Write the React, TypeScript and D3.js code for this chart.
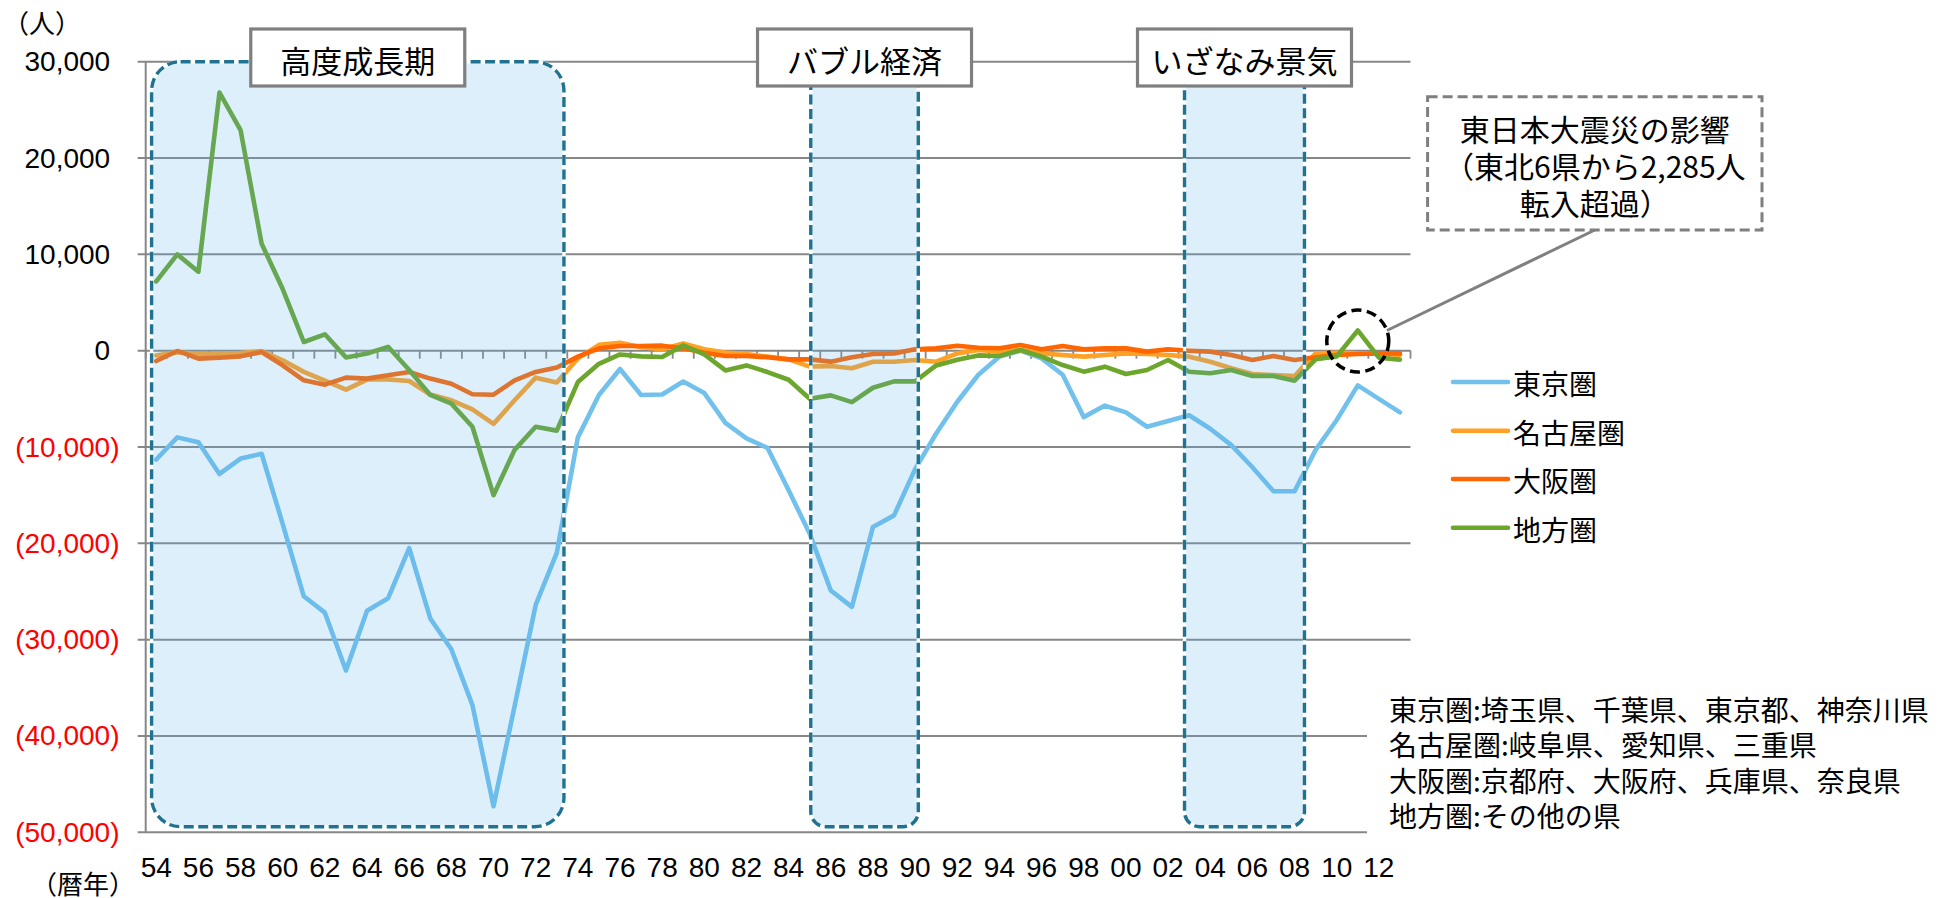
import React from 'react';
import * as d3 from 'd3';

const years = [
  1954, 1955, 1956, 1957, 1958, 1959, 1960, 1961, 1962, 1963,
  1964, 1965, 1966, 1967, 1968, 1969, 1970, 1971, 1972, 1973,
  1974, 1975, 1976, 1977, 1978, 1979, 1980, 1981, 1982, 1983,
  1984, 1985, 1986, 1987, 1988, 1989, 1990, 1991, 1992, 1993,
  1994, 1995, 1996, 1997, 1998, 1999, 2000, 2001, 2002, 2003,
  2004, 2005, 2006, 2007, 2008, 2009, 2010, 2011, 2012, 2013,
];

const tokyo = [
  -11300, -9000, -9500, -12800, -11200, -10700, -18000, -25500, -27200, -33200,
  -27000, -25700, -20500, -27800, -31000, -36800, -47300, -36900, -26400, -21000,
  -9000, -4600, -1900, -4600, -4550, -3200, -4400, -7500, -9100, -10100,
  -14500, -19000, -24900, -26600, -18300, -17100, -12300, -8600, -5300, -2500,
  -600, 0, -800, -2500, -6900, -5700, -6400, -7900, -7300, -6700,
  -8100, -9800, -12100, -14600, -14600, -10300, -7200, -3600, -5000, -6400,
];

const nagoya = [
  -500, -150, -380, -310, -240, -50, -1000, -2200, -3100, -4050,
  -3000, -3000, -3150, -4550, -5150, -6100, -7600, -5150, -2800, -3300,
  -800, 600, 830, 350, 140, 760, 140, -200, -350, -620,
  -900, -1650, -1600, -1830, -1150, -1150, -970, -1150, -280, 70,
  -100, 70, -280, -450, -620, -450, -280, -350, -450, -620,
  -1150, -1830, -2420, -2530, -2630, -280, -210, -280, -280, -450,
];

const osaka = [
  -1070, -30, -830, -730, -590, -140, -1520, -3080, -3530, -2800,
  -2900, -2560, -2210, -2900, -3430, -4530, -4570, -3080, -2210, -1750,
  -620, 240, 480, 480, 520, 240, -210, -550, -550, -690,
  -900, -900, -1140, -690, -350, -280, 140, 240, 520, 310,
  250, 590, 140, 480, 140, 240, 240, -100, 140, 0,
  -100, -450, -970, -550, -970, -690, -450, -350, -280, -280,
];

const chiho = [
  7200, 10000, 8200, 26800, 22900, 11100, 6400, 900, 1700, -700,
  -300, 400, -2000, -4600, -5500, -7900, -15000, -10300, -7900, -8300,
  -3260, -1360, -390, -590, -660, 550, -390, -2050, -1530, -2220,
  -3020, -4990, -4640, -5340, -3850, -3190, -3190, -1530, -940, -490,
  -550, 70, -620, -1490, -2180, -1660, -2420, -2010, -970, -2180,
  -2350, -2010, -2630, -2630, -3110, -900, -590, 2100, -730, -930,
];

const seriesNames = ['東京圏', '名古屋圏', '大阪圏', '地方圏'];
const seriesValues = [tokyo, nagoya, osaka, chiho];
const seriesColors = ['#72C1EC', '#FFA126', '#FF6600', '#6CA62C'];

const yTicks = [30000, 20000, 10000, 0, -10000, -20000, -30000, -40000, -50000];

const periodLabels = ['高度成長期', 'バブル経済', 'いざなみ景気'];
const periodStarts = [1954.28, 1985.55, 2003.28];
const periodEnds = [1973.84, 1990.65, 2008.97];
const periodRadii = [29, 15, 15];

const noteLines = [
  '東京圏:埼玉県、千葉県、東京都、神奈川県',
  '名古屋圏:岐阜県、愛知県、三重県',
  '大阪圏:京都府、大阪府、兵庫県、奈良県',
  '地方圏:その他の県',
];

const annotationLines = ['東日本大震災の影響', '（東北6県から2,285人', '転入超過）'];
const annotationYear = 2011;
const annotationValue = 1000;

const W = 1955;
const H = 898;
const LEFT = 145.7;
const RIGHT = 1410.5;
const TOP = 61.7;
const BOTTOM = 832.3;

const JP = '"Noto Sans CJK JP", "Noto Sans CJK SC", sans-serif';
const NUM = '"Liberation Sans", Arial, sans-serif';
const GRID = '#878787';
const TEAL = '#1F7391';

export default function App() {
  const x = d3.scaleBand<number>().domain(years).range([LEFT, RIGHT]).padding(0);
  const bw = x.bandwidth();
  const xc = (yr: number) => (x(yr) as number) + bw / 2;
  const xLin = d3.scaleLinear().domain([years[0], years[years.length - 1] + 1]).range([LEFT, RIGHT]);
  const y = d3.scaleLinear().domain([-50000, 30000]).range([BOTTOM, TOP]);

  const line = d3
    .line<number>()
    .x((_, i) => xc(years[i]))
    .y((d) => y(d));

  const y0 = y(0);
  const boundaries = d3.range(years.length + 1).map((k) => LEFT + k * bw);

  const boxW = 214;
  const boxTop = 29;
  const boxH = 57;

  const annX0 = 1427.6;
  const annX1 = 1762;
  const annY0 = 96.7;
  const annY1 = 230;
  const annCx = (annX0 + annX1) / 2;

  const circX = xc(annotationYear);
  const circY = y(annotationValue);
  const circR = 31;

  const legendX0 = 1453;
  const legendX1 = 1508;
  const legendY = [382, 430.7, 479, 527.7];

  const periodBottom = 826.7;

  return (
    <div style={{ position: 'absolute', left: 0, top: 0 }}>
      <svg width={W} height={H} style={{ display: 'block', background: '#fff' }}>
        {/* gridlines */}
        {yTicks.map((t) => (
          <line key={'g' + t} x1={LEFT - 8} x2={RIGHT} y1={y(t)} y2={y(t)} stroke={GRID} strokeWidth={2} />
        ))}
        {/* y axis */}
        <line x1={LEFT} x2={LEFT} y1={TOP} y2={BOTTOM} stroke={GRID} strokeWidth={2} />
        {/* x axis ticks on zero line */}
        {boundaries.map((bx, k) => (
          <line key={'t' + k} x1={bx} x2={bx} y1={y0} y2={y0 + 8} stroke={GRID} strokeWidth={1.8} />
        ))}

        {/* series */}
        {seriesValues.map((vals, si) => (
          <path
            key={'s' + si}
            d={line(vals) || ''}
            fill="none"
            stroke={seriesColors[si]}
            strokeWidth={4.6}
            strokeLinejoin="round"
            strokeLinecap="round"
          />
        ))}

        {/* shaded periods */}
        {periodLabels.map((lab, i) => {
          const px0 = xLin(periodStarts[i]);
          const px1 = xLin(periodEnds[i]);
          return (
            <g key={'p' + i}>
              <rect
                x={px0}
                y={TOP}
                width={px1 - px0}
                height={periodBottom - TOP}
                rx={periodRadii[i]}
                ry={periodRadii[i]}
                fill="rgb(85,175,235)"
                fillOpacity={0.2}
              />
              <rect
                x={px0}
                y={TOP}
                width={px1 - px0}
                height={periodBottom - TOP}
                rx={periodRadii[i]}
                ry={periodRadii[i]}
                fill="none"
                stroke="#fff"
                strokeWidth={3.4}
              />
              <rect
                x={px0}
                y={TOP}
                width={px1 - px0}
                height={periodBottom - TOP}
                rx={periodRadii[i]}
                ry={periodRadii[i]}
                fill="none"
                stroke={TEAL}
                strokeWidth={3.4}
                strokeDasharray="10 4.5"
              />
            </g>
          );
        })}

        {/* period label boxes */}
        {periodLabels.map((lab, i) => {
          const cx = (xLin(periodStarts[i]) + xLin(periodEnds[i])) / 2;
          return (
            <g key={'b' + i}>
              <rect x={cx - boxW / 2} y={boxTop} width={boxW} height={boxH} fill="#fff" stroke="#7F7F7F" strokeWidth={3.2} />
              <text
                x={cx}
                y={boxTop + boxH / 2 + 1.5}
                textAnchor="middle"
                dominantBaseline="central"
                fontFamily={JP}
                fontSize={31}
                fill="#000"
              >
                {lab}
              </text>
            </g>
          );
        })}

        {/* y labels */}
        {yTicks.map((t) => (
          <text
            key={'yl' + t}
            x={t < 0 ? 119.5 : 110.2}
            y={y(t)}
            textAnchor="end"
            dominantBaseline="central"
            fontFamily={NUM}
            fontSize={28}
            fill={t < 0 ? '#FF0000' : '#000'}
          >
            {t < 0 ? '(' + d3.format(',')(-t) + ')' : d3.format(',')(t)}
          </text>
        ))}

        {/* x labels */}
        {years
          .filter((yr) => yr % 2 === 0)
          .map((yr) => (
            <text key={'xl' + yr} x={xc(yr)} y={877} textAnchor="middle" fontFamily={NUM} fontSize={28} fill="#000">
              {String(yr % 100).padStart(2, '0')}
            </text>
          ))}

        {/* unit labels */}
        <text x={3} y={33} fontFamily={JP} fontSize={26} fill="#000">
          （人）
        </text>
        <text x={31} y={894} fontFamily={JP} fontSize={26} fill="#000">
          （暦年）
        </text>

        {/* notes */}
        <rect x={1367} y={688} width={580} height={148} fill="#fff" />
        {noteLines.map((s, i) => (
          <text
            key={'n' + i}
            x={1389}
            y={709 + i * 35.4}
            dominantBaseline="central"
            fontFamily={JP}
            fontSize={28}
            fill="#000"
          >
            {s}
          </text>
        ))}

        {/* legend */}
        {seriesNames.map((name, i) => (
          <g key={'lg' + i}>
            <line
              x1={legendX0}
              x2={legendX1}
              y1={legendY[i]}
              y2={legendY[i]}
              stroke={seriesColors[i]}
              strokeWidth={4.6}
              strokeLinecap="round"
            />
            <text x={legendX1 + 5} y={legendY[i] + 1} dominantBaseline="central" fontFamily={JP} fontSize={28} fill="#000">
              {name}
            </text>
          </g>
        ))}

        {/* annotation */}
        <line x1={annCx} y1={annY1} x2={circX + circR * 0.94} y2={circY - circR * 0.34} stroke="#808080" strokeWidth={3} />
        <rect
          x={annX0}
          y={annY0}
          width={annX1 - annX0}
          height={annY1 - annY0}
          fill="#fff"
          stroke="#7F7F7F"
          strokeWidth={3}
          strokeDasharray="10 5"
        />
        {annotationLines.map((s, i) => (
          <text
            key={'a' + i}
            x={annCx}
            y={128 + i * 37}
            textAnchor="middle"
            dominantBaseline="central"
            fontFamily={JP}
            fontSize={30}
            fill="#000"
          >
            {s}
          </text>
        ))}
        <circle cx={circX} cy={circY} r={circR} fill="none" stroke="#000" strokeWidth={3.5} strokeDasharray="10 5.5" />
      </svg>
    </div>
  );
}
